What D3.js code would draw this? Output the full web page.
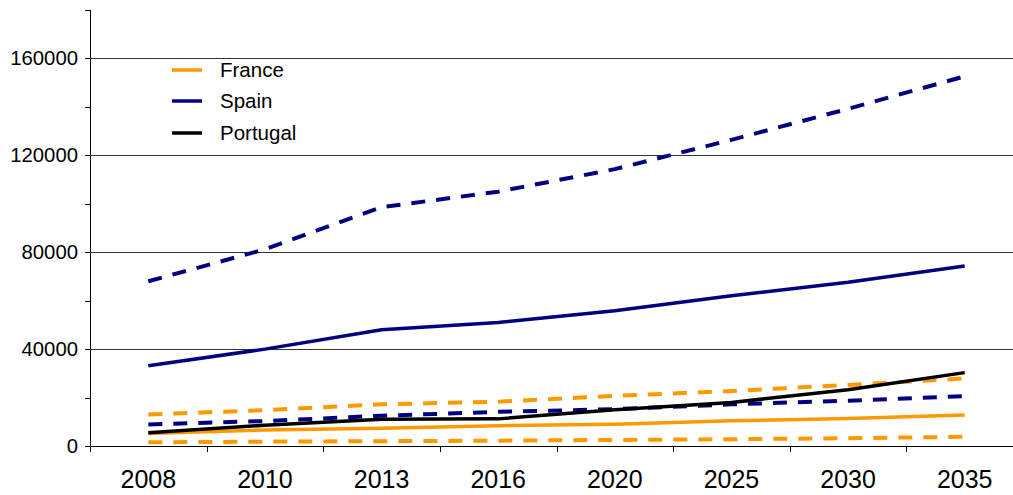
<!DOCTYPE html>
<html>
<head>
<meta charset="utf-8">
<script src="https://cdn.jsdelivr.net/npm/d3@7"></script>
<style>
  html, body { margin: 0; padding: 0; background: #fff; }
  svg { display: block; font-family: "Liberation Sans", Arial, sans-serif; }
</style>
</head>
<body>
<svg id="chart" width="1013" height="495"></svg>
<script>
// Years on the category axis
const years = ["2008", "2010", "2013", "2016", "2020", "2025", "2030", "2035"];

// France: central scenario and its high / low bounds
const franceMid  = [5200, 6600, 7300, 8400, 9000, 10400, 11400, 12800];
const franceHigh = [13000, 14800, 17200, 18300, 20700, 22700, 25200, 27900];
const franceLow  = [1500, 1800, 2000, 2200, 2500, 2800, 3200, 3800];

// Spain: central scenario and its high / low bounds
const spainMid  = [33100, 40000, 48000, 51000, 55800, 62000, 67600, 74300];
const spainHigh = [68000, 81200, 98600, 105000, 114300, 126400, 139200, 152600];
const spainLow  = [8900, 10300, 12500, 14100, 15200, 17200, 18700, 20600];

// Portugal: single scenario
const portugal = [5500, 8600, 11000, 11200, 15000, 18000, 23200, 30300];

const yTicks = [0, 40000, 80000, 120000, 160000];
const yMinorTicks = d3.range(0, 180001, 20000);

const legendNames = ["France", "Spain", "Portugal"];
const colors = { France: "#FF9900", Spain: "#000080", Portugal: "#000000" };

const series = [
  { name: "France", values: franceLow,  dashed: true },
  { name: "France", values: franceHigh, dashed: true },
  { name: "France", values: franceMid,  dashed: false },
  { name: "Spain",  values: spainLow,   dashed: true },
  { name: "Spain",  values: spainHigh,  dashed: true },
  { name: "Spain",  values: spainMid,   dashed: false },
  { name: "Portugal", values: portugal, dashed: false }
];

const svg = d3.select("#chart");
const plotLeft = 90, plotRight = 1023, plotTop = 10, plotBottom = 446;

const x = d3.scaleBand().domain(years).range([plotLeft, plotRight]).paddingInner(0).paddingOuter(0);
const y = d3.scaleLinear().domain([0, 180000]).range([plotBottom, plotTop]);

// Horizontal gridlines
svg.append("g")
  .selectAll("line")
  .data(yTicks.filter(d => d > 0))
  .join("line")
  .attr("x1", plotLeft).attr("x2", 1013)
  .attr("y1", d => Math.round(y(d)) + 0.5)
  .attr("y2", d => Math.round(y(d)) + 0.5)
  .attr("stroke", "#333").attr("stroke-width", 1);

// Y axis: line, minor ticks, labels
const yAxis = svg.append("g");
yAxis.append("line")
  .attr("x1", plotLeft + 0.5).attr("x2", plotLeft + 0.5)
  .attr("y1", Math.round(y(180000))).attr("y2", plotBottom + 0.5)
  .attr("stroke", "#000");
yAxis.selectAll("line.tick")
  .data(yMinorTicks)
  .join("line")
  .attr("class", "tick")
  .attr("x1", plotLeft - 5).attr("x2", plotLeft)
  .attr("y1", d => Math.round(y(d)) + 0.5)
  .attr("y2", d => Math.round(y(d)) + 0.5)
  .attr("stroke", "#000");
yAxis.selectAll("text")
  .data(yTicks)
  .join("text")
  .attr("x", 78)
  .attr("y", d => y(d))
  .attr("dy", "0.36em")
  .attr("text-anchor", "end")
  .attr("font-size", 19.5)
  .attr("textLength", d => String(d).length * 11.3)
  .attr("lengthAdjust", "spacingAndGlyphs")
  .attr("fill", "#000")
  .text(d => d);

// X axis: baseline, boundary ticks, labels
const xAxis = svg.append("g");
xAxis.append("line")
  .attr("x1", plotLeft).attr("x2", 1013)
  .attr("y1", plotBottom + 0.5).attr("y2", plotBottom + 0.5)
  .attr("stroke", "#000");
xAxis.selectAll("line.tick")
  .data(years)
  .join("line")
  .attr("class", "tick")
  .attr("x1", d => Math.round(x(d)) + 0.5)
  .attr("x2", d => Math.round(x(d)) + 0.5)
  .attr("y1", plotBottom).attr("y2", plotBottom + 6)
  .attr("stroke", "#000");
xAxis.selectAll("text")
  .data(years)
  .join("text")
  .attr("x", d => x(d) + x.bandwidth() / 2)
  .attr("y", 488)
  .attr("text-anchor", "middle")
  .attr("font-size", 25)
  .attr("fill", "#000")
  .text(d => d);

// Series lines
const line = d3.line()
  .x((d, i) => x(years[i]) + x.bandwidth() / 2)
  .y(d => y(d));

svg.append("g")
  .selectAll("path")
  .data(series)
  .join("path")
  .attr("d", d => line(d.values))
  .attr("fill", "none")
  .attr("stroke", d => colors[d.name])
  .attr("stroke-width", d => d.dashed ? 4 : 3.5)
  .attr("stroke-dasharray", d => d.dashed ? "14,11" : null)
  .attr("stroke-linejoin", "round");

// Legend
const legend = svg.append("g");
const legendY = [70, 101, 133];
legendNames.forEach((name, i) => {
  legend.append("line")
    .attr("x1", 172).attr("x2", 202)
    .attr("y1", legendY[i]).attr("y2", legendY[i])
    .attr("stroke", colors[name]).attr("stroke-width", 3.5);
  legend.append("text")
    .attr("x", 220).attr("y", legendY[i])
    .attr("dy", "0.36em")
    .attr("font-size", 20.5)
    .attr("fill", "#000")
    .text(name);
});
</script>
</body>
</html>
